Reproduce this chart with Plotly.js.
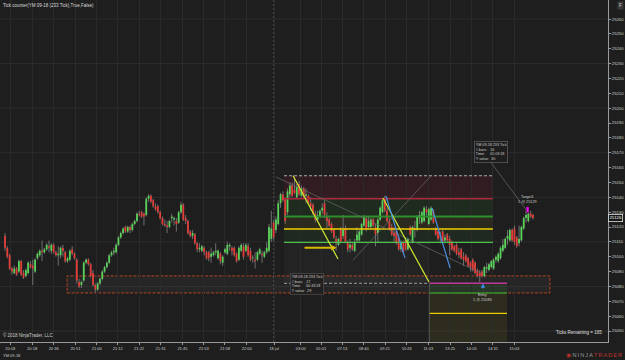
<!DOCTYPE html>
<html><head><meta charset="utf-8">
<script src="https://cdn.plot.ly/plotly-3.0.1.min.js"></script>
<style>html,body{margin:0;padding:0;background:#1e1e1e;}#chart{width:625px;height:360px;}</style>
</head><body><div id="chart"></div>
<script>
// ---- OHLC data (YM 09-18, 233 tick bars), bar number = index ----
const open = [
25114,25106,25101,25092,25089,25092,25090,25097,25089,25087,
25089,25095,25094,25090,25099,25101,25104,25103,25105,25107,
25104,25108,25103,25101,25101,25106,25103,25097,25098,25105,
25102,25098,25083,25081,25084,25096,25098,25095,25089,25081,
25078,25082,25085,25090,25093,25096,25101,25103,25103,25108,
25113,25116,25120,25117,25120,25118,25122,25124,25129,25130,
25129,25128,25139,25141,25138,25134,25134,25130,25126,25122,
25121,25120,25126,25125,25124,25123,25130,25135,25126,25124,
25117,25114,25115,25109,25105,25104,25106,25103,25103,25100,
25101,25103,25099,25102,25096,25103,25102,25107,25106,25106,
25102,25098,25104,25107,25104,25107,25104,25099,25098,25098,
25102,25102,25100,25103,25104,25112,25123,25118,25122,25136,
25142,25139,25130,25142,25148,25145,25140,25149,25141,25146,
25141,25141,25136,25135,25129,25125,25127,25131,25136,25127,
25125,25122,25118,25112,25108,25118,25114,25119,25110,25106,
25108,25104,25111,25111,25115,25121,25126,25120,25120,25125,
25120,25116,25125,25130,25139,25131,25124,25120,25116,25117,
25113,25105,25110,25111,25105,25120,25110,25119,25118,25126,
25123,25124,25132,25122,25125,25131,25119,25117,25114,25117,
25111,25115,25112,25110,25107,25108,25103,25105,25100,25101,
25099,25096,25098,25096,25091,25089,25090,25087,25092,25091,
25093,25092,25098,25097,25099,25104,25106,25112,25111,25118,
25119,25113,25109,25111,25119,25126,25124,25129,25128];
const high = [
25116,25107,25102,25093,25094,25093,25098,25098,25091,25092,
25097,25097,25098,25099,25103,25105,25111,25106,25109,25111,
25109,25109,25104,25107,25107,25108,25104,25100,25105,25107,
25103,25099,25085,25084,25097,25099,25099,25096,25091,25082,
25083,25086,25091,25094,25097,25102,25104,25106,25109,25114,
25117,25120,25121,25121,25121,25123,25125,25130,25131,25131,
25130,25140,25142,25142,25139,25136,25135,25131,25127,25125,
25124,25125,25129,25127,25126,25131,25137,25136,25128,25125,
25118,25118,25116,25110,25109,25108,25107,25104,25104,25106,
25104,25109,25105,25103,25101,25106,25110,25109,25107,25107,
25103,25107,25109,25109,25109,25109,25106,25101,25103,25104,
25106,25104,25104,25110,25122,25131,25125,25127,25138,25143,
25144,25140,25146,25150,25150,25153,25149,25151,25148,25147,
25146,25142,25140,25136,25131,25131,25132,25136,25138,25130,
25126,25123,25119,25114,25113,25120,25128,25121,25111,25112,
25109,25112,25120,25118,25123,25128,25127,25127,25126,25126,
25122,25126,25134,25139,25141,25133,25126,25122,25120,25119,
25114,25111,25111,25113,25113,25121,25121,25124,25128,25131,
25131,25134,25134,25133,25134,25132,25120,25118,25117,25118,
25115,25116,25114,25111,25108,25109,25106,25106,25103,25102,
25100,25097,25099,25097,25092,25091,25091,25094,25096,25096,
25098,25099,25101,25103,25107,25112,25113,25118,25119,25119,
25121,25114,25121,25121,25127,25131,25130,25131,25129];
const low = [
25104,25099,25091,25088,25088,25087,25089,25087,25085,25086,
25088,25092,25081,25089,25098,25100,25097,25102,25104,25103,
25102,25102,25100,25094,25099,25100,25096,25096,25097,25101,
25098,25082,25079,25079,25083,25095,25094,25086,25080,25076,
25077,25081,25084,25089,25092,25095,25100,25101,25102,25107,
25112,25115,25116,25116,25116,25117,25121,25123,25127,25126,
25121,25127,25137,25136,25133,25131,25129,25125,25121,25120,
25116,25119,25123,25121,25117,25122,25129,25124,25122,25115,
25113,25112,25108,25103,25103,25103,25101,25098,25097,25096,
25100,25101,25098,25095,25094,25102,25101,25104,25101,25100,
25096,25097,25103,25098,25103,25100,25097,25096,25092,25097,
25101,25096,25099,25102,25103,25110,25111,25116,25121,25133,
25137,25122,25128,25140,25140,25142,25139,25141,25140,25139,
25136,25135,25131,25128,25123,25124,25126,25129,25126,25119,
25120,25116,25112,25104,25107,25109,25112,25109,25103,25103,
25104,25103,25110,25110,25114,25120,25117,25119,25119,25120,
25107,25110,25124,25129,25130,25123,25118,25114,25110,25108,
25104,25103,25102,25104,25104,25114,25109,25113,25117,25122,
25122,25123,25128,25121,25124,25122,25114,25111,25109,25109,
25109,25110,25101,25104,25103,25101,25099,25098,25094,25096,
25093,25090,25090,25088,25086,25083,25086,25086,25089,25090,
25092,25091,25096,25096,25098,25103,25105,25108,25110,25110,
25108,25106,25107,25110,25118,25123,25123,25126,25125];
const close = [
25106,25100,25092,25090,25092,25088,25097,25088,25086,25091,
25096,25093,25092,25098,25102,25104,25103,25105,25108,25106,
25108,25103,25101,25102,25106,25104,25097,25099,25104,25102,
25099,25084,25080,25083,25096,25098,25095,25087,25081,25078,
25082,25085,25090,25093,25096,25101,25103,25104,25108,25113,
25116,25119,25117,25120,25118,25122,25124,25129,25128,25127,
25127,25139,25141,25137,25134,25132,25130,25126,25122,25121,
25120,25124,25127,25126,25122,25130,25135,25125,25124,25116,
25114,25116,25109,25105,25106,25107,25103,25099,25099,25102,
25103,25104,25104,25097,25100,25105,25108,25108,25104,25101,
25097,25106,25108,25100,25108,25101,25098,25099,25097,25103,
25105,25101,25103,25106,25120,25119,25113,25125,25136,25142,
25138,25124,25144,25148,25141,25143,25147,25142,25146,25140,
25142,25136,25134,25129,25125,25128,25131,25133,25128,25124,
25121,25117,25113,25109,25112,25110,25118,25110,25105,25108,
25105,25110,25115,25117,25122,25127,25119,25124,25125,25121,
25115,25125,25133,25138,25131,25124,25119,25115,25114,25109,
25105,25110,25103,25105,25112,25115,25120,25118,25127,25128,
25130,25133,25130,25132,25133,25123,25115,25112,25113,25110,
25113,25111,25108,25105,25104,25102,25101,25099,25098,25097,
25094,25093,25091,25089,25087,25087,25087,25093,25093,25095,
25097,25098,25100,25102,25106,25108,25112,25114,25118,25111,
25110,25107,25112,25120,25126,25128,25129,25127,25126];

// time axis labels (bar number of each label)
const tickBars = [2.3,11.7,21.0,30.4,39.6,48.7,57.9,67.2,76.6,85.8,95.0,104.4,116.2,127.7,136.5,145.6,154.9,164.1,173.5,182.8,192.2,201.5,210.7,219.9];
const tickLabels = ["20:03","20:18","20:36","20:51","21:00","21:12","21:22","21:31","21:45","21:53","21:58","22:00","18 jul","03:00","05:01","07:13","08:40","09:21","10:26","11:03","13:25","14:05","14:31","15:03"];
const priceTicks = [25050,25060,25070,25080,25090,25100,25110,25120,25130,25140,25150,25160,25170,25180,25190,25200,25210,25220,25230,25240,25250,25260];
const priceGrid = [25050,25080,25110,25140,25170,25200,25230,25260];
const lastPrice = 25126;
const sessionBreakBar = 116.2;

// drawing objects (bar number, price)
const zoneBars = [26.8, 235.3];
const zonePrices = [25075.6, 25087.1];
const rrBars = [120.5, 183.3, 210.7, 216.8];
const rrTop = 25154.5, rrStop = 25139.1, rrT1 = 25127.0, rrMidY = 25118.7, rrLow = 25109.7;
const rrEntry = 25082.1, rrGreen2 = 25075.6, rrYellow2 = 25061.9;
const limeLines = [[[124.4,25154.5],[143.8,25098.5]], [[163.2,25139.5],[183.1,25083.0]]];
const blueLines = [[[164.5,25140.9],[172.7,25099.2]], [[184.4,25132.8],[192.2,25092.4]]];
const grayLines = [[[117.0,25153.7],[206.4,25088.4]], [[150.3,25097.8],[184.0,25154.5]], [[209.4,25164.4],[225.8,25130.1]]];
const yArrow = [[128.7,25106.1],[143.2,25106.1]];
const entryArrow = [[206.4,25077.6],[206.4,25081.9]];
const targetMark = [225.7, 25130.0, 25133.5];
const box1 = [123.1, 25089.1, "YM 09-18 233 Tick<br># bars:   17<br>Time:     00:43:28<br>Y value:  29"];
const box2 = [202.5, 25177.9, "YM 09-18 233 Tick<br># bars:   16<br>Time:     01:03:18<br>Y value:  30"];
const targetLbl = [225.8, 25134.2, "Target1<br>1 @ 25129"];
const entryLbl = [206.4, 25077.0, "Entry<br>1 @ 25083"];

// ---- build ----
const idx = close.map((_, i) => i);
const up = idx.filter(i => close[i] >= open[i]);
const dn = idx.filter(i => close[i] < open[i]);
const UP = '#58d258', DN = '#e23d38', WICK = '#727272';
const traces = [
  {type:'bar', x:idx, base:low, y:idx.map(i => high[i]-low[i]), width:0.42,
   marker:{color:WICK, line:{width:0}}, hoverinfo:'skip', showlegend:false},
  {type:'bar', x:up, base:up.map(i => open[i]), y:up.map(i => Math.max(close[i]-open[i], 0.5)), width:0.78,
   marker:{color:UP, line:{width:0}}, hoverinfo:'skip', showlegend:false},
  {type:'bar', x:dn, base:dn.map(i => close[i]), y:dn.map(i => Math.max(open[i]-close[i], 0.5)), width:0.78,
   marker:{color:DN, line:{width:0}}, hoverinfo:'skip', showlegend:false}
];

const shapes = [];
function seg(x0,y0,x1,y1,color,width,dash,layer){shapes.push({type:'line',xref:'x',yref:'y',x0,y0,x1,y1,line:{color,width,dash:dash||'solid'},layer:layer||'above'});}
function rect(x0,y0,x1,y1,fill,layer){shapes.push({type:'rect',xref:'x',yref:'y',x0,y0,x1,y1,fillcolor:fill,line:{width:0},layer:layer||'below'});}
// grid
priceGrid.forEach(p => shapes.push({type:'line',xref:'paper',yref:'y',x0:0,x1:1,y0:p,y1:p,line:{color:'#2c2c2c',width:1},layer:'below'}));
// risk/reward tool fills
rect(rrBars[0], rrStop, rrBars[2], rrTop, 'rgba(120,25,45,0.22)');
rect(rrBars[0], rrT1, rrBars[2], rrStop, 'rgba(40,110,40,0.16)');
rect(rrBars[0], rrMidY, rrBars[2], rrT1, 'rgba(110,100,30,0.18)');
rect(rrBars[0], rrLow, rrBars[2], rrMidY, 'rgba(40,110,40,0.14)');
rect(rrBars[0], rrEntry, rrBars[1], rrLow, 'rgba(255,255,255,0.025)');
rect(rrBars[1], rrGreen2, rrBars[3], rrEntry, 'rgba(40,110,40,0.2)');
rect(rrBars[1], 25042.6, rrBars[3], rrGreen2, 'rgba(110,100,30,0.2)');
// zone
shapes.push({type:'rect',xref:'x',yref:'y',x0:zoneBars[0],x1:zoneBars[1],y0:zonePrices[0],y1:zonePrices[1],
  fillcolor:'rgba(255,255,255,0.04)',line:{color:'#d84c1c',width:0.8,dash:'3px,1.5px'},layer:'below'});
// session break
shapes.push({type:'line',xref:'x',yref:'paper',x0:sessionBreakBar,x1:sessionBreakBar,y0:0,y1:1,line:{color:'#8c8c8c',width:0.8,dash:'2px,2px'},layer:'below'});
// rr lines
seg(rrBars[0], rrTop, rrBars[2], rrTop, '#d0d0d0', 0.8, '3px,2px');
seg(rrBars[0], rrStop, rrBars[2], rrStop, '#a8283c', 1.5);
seg(rrBars[0], rrT1, rrBars[2], rrT1, '#2f8f2f', 2);
seg(rrBars[0], rrMidY, rrBars[2], rrMidY, '#f2d000', 1.6);
seg(rrBars[0], rrLow, rrBars[2], rrLow, '#4cc24c', 1.2);
seg(rrBars[0], rrEntry, rrBars[1], rrEntry, '#bdbdbd', 0.8, '3px,2px');
seg(rrBars[1], rrEntry, rrBars[3], rrEntry, '#c0369a', 1.5);
seg(rrBars[1], rrGreen2, rrBars[3], rrGreen2, '#2f8f2f', 1.5);
seg(rrBars[1], rrYellow2, rrBars[3], rrYellow2, '#e8d000', 1.2);
seg(rrBars[1], rrEntry, rrBars[1], 25042.6, '#5a5a5a', 0.8);
grayLines.forEach(l => seg(l[0][0], l[0][1], l[1][0], l[1][1], '#6a6a6a', 0.7));
limeLines.forEach(l => seg(l[0][0], l[0][1], l[1][0], l[1][1], '#cdee30', 1.2));
blueLines.forEach(l => seg(l[0][0], l[0][1], l[1][0], l[1][1], '#4a8fe2', 1.2));
seg(targetMark[0], targetMark[1], targetMark[0], targetMark[2], '#ff00ff', 2.2);

const F = 'Liberation Sans, Arial, sans-serif';
const TXT = '#cfcfcf';
const annotations = [
  {xref:'paper',yref:'paper',x:0,y:1,xanchor:'left',yanchor:'top',xshift:1,yshift:-1,showarrow:false,
   text:'Tick counter(YM 09-18 (233 Tick),True,False)',font:{family:F,size:4.5,color:'#dcdcdc'}},
  {xref:'paper',yref:'paper',x:0,y:0,xanchor:'left',yanchor:'bottom',xshift:1,yshift:2,showarrow:false,
   text:'© 2018 NinjaTrader, LLC',font:{family:F,size:4.5,color:TXT}},
  {xref:'paper',yref:'paper',x:0,y:0,xanchor:'left',yanchor:'top',xshift:1,yshift:-9,showarrow:false,
   text:'YM 09-18',font:{family:F,size:4,color:TXT}},
  {xref:'paper',yref:'paper',x:1,y:0,xanchor:'right',yanchor:'bottom',xshift:-4,yshift:5,showarrow:false,
   text:'Ticks Remaining = 165',font:{family:F,size:4.5,color:'#e0e0e0'}},
  {xref:'paper',yref:'paper',x:1,y:0,xanchor:'left',yanchor:'top',xshift:-44,yshift:-8,showarrow:false,
   text:'<span style="color:#b8322a">◉</span> <span style="color:#9a9a9a">N\u2009I\u2009N\u2009J\u2009A</span><span style="color:#c0342b">\u2009T\u2009R\u2009A\u2009D\u2009E\u2009R</span>',
   font:{family:F,size:5.5,color:'#9a9a9a'}},
  {xref:'paper',yref:'paper',x:1,y:1,xanchor:'left',yanchor:'top',xshift:9,yshift:-1,showarrow:false,
   text:'F',font:{family:F,size:4.5,color:'#cfcfcf'},bgcolor:'#3a3a3a',borderpad:1},
  {xref:'paper',yref:'y',x:1,y:lastPrice,xanchor:'left',yanchor:'middle',xshift:0,showarrow:false,
   text:String(lastPrice),font:{family:F,size:4.3,color:'#ffffff'},bgcolor:'#151515',bordercolor:'#e0e0e0',borderwidth:0.8,borderpad:0.6},
  {xref:'x',yref:'y',x:box1[0],y:box1[1],xanchor:'left',yanchor:'top',showarrow:false,align:'left',
   text:box1[2],font:{family:F,size:3.7,color:TXT},bgcolor:'rgba(30,30,30,0.85)',bordercolor:'#4a4a4a',borderwidth:0.8,borderpad:1},
  {xref:'x',yref:'y',x:box2[0],y:box2[1],xanchor:'left',yanchor:'top',showarrow:false,align:'left',
   text:box2[2],font:{family:F,size:3.7,color:TXT},bgcolor:'rgba(30,30,30,0.85)',bordercolor:'#5a5a5a',borderwidth:0.8,borderpad:1},
  {xref:'x',yref:'y',x:targetLbl[0],y:targetLbl[1],xanchor:'center',yanchor:'bottom',showarrow:false,align:'center',
   text:targetLbl[2],font:{family:F,size:3.8,color:TXT}},
  {xref:'x',yref:'y',x:entryLbl[0],y:entryLbl[1],xanchor:'center',yanchor:'top',showarrow:false,align:'center',
   text:entryLbl[2],font:{family:F,size:3.8,color:TXT}},
  {xref:'x',yref:'y',axref:'x',ayref:'y',x:yArrow[1][0],y:yArrow[1][1],ax:yArrow[0][0],ay:yArrow[0][1],
   showarrow:true,arrowhead:2,arrowsize:0.55,arrowwidth:2,arrowcolor:'#d8bb00',text:''},
  {xref:'x',yref:'y',axref:'x',ayref:'y',x:entryArrow[1][0],y:entryArrow[1][1],ax:entryArrow[0][0],ay:entryArrow[0][1],
   showarrow:true,arrowhead:2,arrowsize:0.7,arrowwidth:1.2,arrowcolor:'#3a8fe8',text:''}
];

const layout = {
  width:625, height:360,
  margin:{l:0, r:17, t:0, b:18, pad:0},
  paper_bgcolor:'#1e1e1e', plot_bgcolor:'#1e1e1e',
  barmode:'overlay', showlegend:false,
  font:{family:F, color:TXT},
  xaxis:{range:[-2.16, 260.4], tickvals:tickBars, ticktext:tickLabels, ticks:'outside', ticklen:2, tickcolor:'#9a9a9a',
    tickfont:{family:F,size:4,color:TXT}, showline:true, linecolor:'#9a9a9a', linewidth:1,
    showgrid:true, gridcolor:'#2a2a2a', gridwidth:1, zeroline:false, fixedrange:true},
  yaxis:{range:[25042.6, 25272.8], side:'right', tickvals:priceTicks, ticktext:priceTicks.map(String), ticks:'outside', ticklen:2,
    tickcolor:'#9a9a9a', tickfont:{family:F,size:4.2,color:TXT}, showline:true, linecolor:'#9a9a9a', linewidth:1,
    showgrid:false, zeroline:false, fixedrange:true},
  shapes, annotations
};
Plotly.newPlot('chart', traces, layout, {displayModeBar:false, staticPlot:true});
</script>
</body></html>
